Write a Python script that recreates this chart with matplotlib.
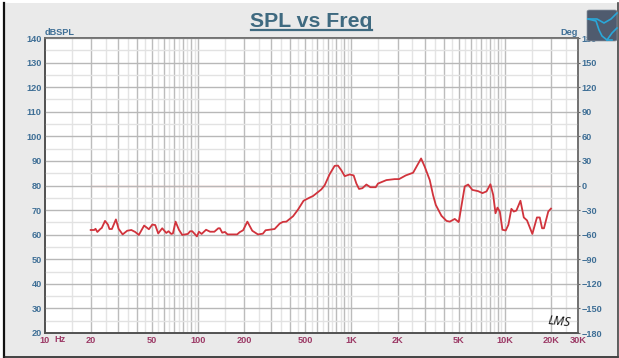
import matplotlib
matplotlib.use("Agg")
import matplotlib.pyplot as plt
from matplotlib.patches import Rectangle, FancyBboxPatch
from matplotlib.lines import Line2D
from matplotlib.ticker import FixedLocator, FixedFormatter, NullLocator

freq = [20, 21.1, 21.5, 22.1, 23.2, 23.6, 24.8, 25.9, 26.5, 27.5, 29.2, 30.4, 32.3, 34.6, 36.8, 39, 41.2,
        44.6, 47.9, 50.4, 52.7, 55.1, 58.5, 62.2, 64.3, 67, 68.7, 71.5, 75.2, 79, 86, 89, 91.8, 98.5, 101.5,
        105.7, 113, 120, 128, 135.7, 139, 144, 150, 156, 169, 180, 187, 197, 210, 226, 246, 265, 276, 316,
        341, 358, 377, 417, 449, 488, 535, 562, 637, 670, 722, 778, 818, 860, 905, 975, 1035, 1078, 1122,
        1180, 1253, 1330, 1441, 1492, 1692, 1917, 2045, 2262, 2526, 2655, 2848, 3009, 3243, 3408, 3550,
        3864, 4170, 4380, 4720, 5010, 5480, 5770, 6150, 6700, 7150, 7600, 8060, 8400, 8700, 8960, 9280,
        9650, 10140, 10550, 11040, 11440, 11900, 12650, 13300, 13960, 15120, 16200, 16900, 17500, 18000,
        19200, 20000]
spl = [61.9, 61.9, 62.4, 61.1, 62.4, 62.7, 65.6, 64.1, 62.3, 62.3, 66.2, 62.4, 60.1, 61.6, 61.9, 61.1, 59.9,
       63.7, 62.2, 64.1, 63.9, 60.5, 62.6, 60.7, 61.4, 60.3, 60.5, 65.3, 62, 59.9, 60.3, 61.4, 61.4, 59.3, 61.2,
       60.3, 62, 61.2, 61.2, 62.6, 62.6, 60.8, 61.1, 60.1, 60.1, 60.1, 61, 61.8, 65.3, 61.6, 60.1, 60.4, 61.8, 62.3,
       64.5, 65.2, 65.3, 67.5, 70.2, 73.8, 75.1, 75.7, 78.4, 80.1, 84.6, 88, 88.1, 86.2, 83.8, 84.5, 84.1, 80.8, 78.6,
       78.9, 80.4, 79.3, 79.3, 80.8, 82.2, 82.6, 82.6, 84.1, 85.2, 87.6, 91, 87.6, 82.2, 76.1, 72.1,
       67.7, 65.6, 65.3, 66.4, 65.1, 79.6, 80.4, 78.2, 77.7, 76.9, 77.6, 80.5, 76.2, 68.7, 71, 69.4,
       62, 61.7, 64, 70.5, 69.4, 69.8, 73.8, 67, 65.8, 60.3, 67, 67, 62.6, 62.6,
       69.4, 70.6]
phase_ref_freq = [20, 20000]
phase_ref_deg = [0, 0]

x_tick_vals = [10, 20, 50, 100, 200, 500, 1000, 2000, 5000, 10000, 20000, 30000]
x_tick_labels = ["10", "20", "50", "100", "200", "500", "1K", "2K", "5K", "10K", "20K", "30K"]
x_major_grid = [20, 30, 40, 50, 60, 70, 80, 90, 100, 200, 300, 400, 500, 600, 700, 800, 900, 1000,
                2000, 3000, 4000, 5000, 6000, 7000, 8000, 9000, 10000, 20000]
x_minor_grid = [15, 25, 35, 45, 55, 65, 75, 85, 95, 150, 250, 350, 450, 550, 650, 750, 850, 950,
                1500, 2500, 3500, 4500, 5500, 6500, 7500, 8500, 9500, 15000, 25000]
spl_ticks = list(range(20, 141, 10))
spl_minor = list(range(25, 140, 10))
deg_ticks = list(range(-180, 181, 30))

W, H = 619, 358
BLUE = "#3f6f96"
LS = 6.6
plt.rcParams["font.family"] = ["Liberation Sans Narrow", "Liberation Sans", "DejaVu Sans"]
fig = plt.figure(figsize=(W / 100, H / 100), dpi=100, facecolor="white")

def fx(p): return p / W
def fy(p): return 1 - p / H

# panel background and borders
fig.add_artist(Rectangle((fx(4), fy(356)), fx(614), fy(3) - fy(356),
                         transform=fig.transFigure, fc="#eaeaea", ec="none", zorder=-5))
fig.add_artist(Line2D([fx(4), fx(4)], [fy(3), fy(357)], color="#111111", lw=1.6, zorder=-4))
fig.add_artist(Line2D([fx(4), fx(618)], [fy(357), fy(357)], color="#222222", lw=1.2, zorder=-4))
fig.add_artist(Line2D([fx(618), fx(618)], [fy(3), fy(357)], color="#444444", lw=1.2, zorder=-4))

ax2 = fig.add_axes([fx(44.5), fy(333), fx(578 - 44.5), fy(38) - fy(333)], facecolor="white")
ax2.set_xscale("log")
ax2.set_xlim(10, 30000)
ax2.yaxis.tick_right()
ax2.set_ylim(-180, 180)
ax2.set_yticks(deg_ticks)
ax2.xaxis.set_major_locator(FixedLocator(x_tick_vals))
ax2.xaxis.set_major_formatter(FixedFormatter(x_tick_labels))
ax2.xaxis.set_minor_locator(NullLocator())
ax2.tick_params(axis="x", length=0, pad=2, labelsize=LS, labelcolor="#9c3a66")
ax2.tick_params(axis="y", length=1.5, width=0.8, color="#666666", pad=1, labelsize=LS, labelcolor=BLUE)
for lab in ax2.get_yticklabels() + ax2.get_xticklabels():
    lab.set_fontweight("bold")

ax = fig.add_axes(ax2.get_position(), facecolor="none", sharex=ax2)
ax.set_ylim(20, 140)
ax.set_yticks(spl_ticks)
ax.tick_params(axis="x", length=0, labelbottom=False)
ax.tick_params(axis="y", length=0, pad=2, labelsize=LS, labelcolor=BLUE)
for lab in ax.get_yticklabels():
    lab.set_fontweight("bold")

for v in x_minor_grid:
    ax2.axvline(v, color="#e4e4e4", lw=1.0, zorder=1)
for v in x_major_grid:
    ax2.axvline(v, color="#bcbcbc", lw=1.0, zorder=1.2)
for v in spl_minor:
    ax.axhline(v, color="#e2e2e2", lw=1.0, zorder=1)
for v in spl_ticks:
    ax.axhline(v, color="#b8b8b8", lw=1.0, zorder=1.2)

for a in (ax, ax2):
    a.spines["top"].set_color("#707070")
    a.spines["right"].set_color("#707070")
    a.spines["left"].set_color("#505050")
    a.spines["bottom"].set_color("#505050")
    for s in a.spines.values():
        s.set_linewidth(1.2)

ax2.plot(phase_ref_freq, phase_ref_deg, color="#f6b5b0", lw=1.0, zorder=2)
ax.plot(freq, spl, color="#d1333c", lw=1.3, zorder=3, solid_joinstyle="round")

# titles and unit labels
fig.text(fx(311.5), fy(27), "SPL vs Freq", family=["Liberation Sans"], fontsize=15.3, fontweight="bold",
         color="#3f6a80", ha="center", va="baseline")
fig.add_artist(Line2D([fx(251), fx(372)], [fy(29.5), fy(29.5)], color="#3f6a80", lw=1.6))
fig.text(fx(45), fy(35), "dBSPL", fontsize=LS, fontweight="bold", color=BLUE, ha="left", va="baseline")
fig.text(fx(578), fy(35), "Deg", fontsize=LS, fontweight="bold", color=BLUE, ha="right", va="baseline")
fig.text(fx(54), fy(342.5), "Hz", fontsize=LS, fontweight="bold", color="#9c3a66", ha="left", va="baseline")
fig.text(fx(559), fy(322), "LMS", family=["Open Sans", "DejaVu Sans"], fontsize=9, style="italic",
         color="#111111", ha="center", va="center", rotation=-6, zorder=6)

# logo badge
fig.add_artist(FancyBboxPatch((fx(587), fy(41)), fx(30), fy(10) - fy(41),
                              boxstyle="round,pad=0,rounding_size=0.004", transform=fig.transFigure,
                              fc="#4f5b6e", ec="#8a94a0", lw=0.5, zorder=5))
bird_x = [588, 596, 599, 602, 607, 612]
bird_y = [19, 21, 30, 36, 40, 40]
fig.add_artist(Line2D([fx(p) for p in bird_x], [fy(p) for p in bird_y], color="#2aa7d8", lw=1.2, zorder=6))
wing_x = [588, 597, 604, 611, 617]
wing_y = [19, 19, 23, 19, 13]
fig.add_artist(Line2D([fx(p) for p in wing_x], [fy(p) for p in wing_y], color="#2aa7d8", lw=1.2, zorder=6))
tail_x = [607, 612, 617]
tail_y = [40, 33, 28]
fig.add_artist(Line2D([fx(p) for p in tail_x], [fy(p) for p in tail_y], color="#2aa7d8", lw=1.2, zorder=6))

fig.savefig("out.png", dpi=100)
